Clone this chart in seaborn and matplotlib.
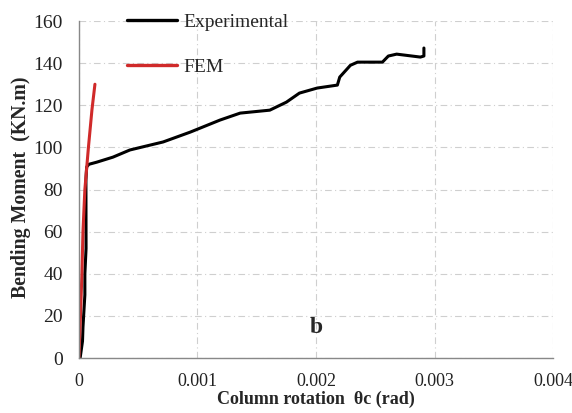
import matplotlib
matplotlib.use("Agg")
import matplotlib.pyplot as plt
import seaborn as sns
import pandas as pd

# Moment-rotation response of the column
exp_rotation = [0.00001, 0.00003, 0.000034, 0.00005, 0.00005, 0.00006, 0.000059, 0.000065,
                0.000084, 0.00015, 0.000287, 0.00043, 0.00071, 0.00094, 0.00119, 0.00136,
                0.00161, 0.00175, 0.00186, 0.00201, 0.00218, 0.0022, 0.00229, 0.00235,
                0.00256, 0.00261, 0.00268, 0.00288, 0.00291, 0.00291]
exp_moment = [0, 8, 14.7, 30, 40, 52, 84.5, 90.7,
              92, 93, 95.4, 98.8, 102.6, 107.3, 113, 116.3,
              117.7, 121.5, 125.8, 128.2, 129.6, 133.4, 139, 140.5,
              140.5, 143.4, 144.3, 142.9, 143.4, 147.2]

fem_rotation = [0, 0.000013, 0.000025, 0.000034, 0.00005, 0.00008, 0.00011, 0.000135]
fem_moment = [0, 20, 40, 60, 80, 100, 118, 130]

x_ticks = [0, 0.001, 0.002, 0.003, 0.004]
x_tick_labels = ["0", "0.001", "0.002", "0.003", "0.004"]
y_ticks = [0, 20, 40, 60, 80, 100, 120, 140, 160]

df = pd.concat([
    pd.DataFrame({"rotation": exp_rotation, "moment": exp_moment, "series": "Experimental"}),
    pd.DataFrame({"rotation": fem_rotation, "moment": fem_moment, "series": "FEM"}),
])

sns.set_style("white")
plt.rcParams["font.family"] = ["Liberation Serif", "DejaVu Serif"]

fig = plt.figure(figsize=(5.72, 4.13), dpi=100)
ax = fig.add_axes([0.138, 0.133, 0.829, 0.816])

sns.lineplot(data=df, x="rotation", y="moment", hue="series", sort=False,
             estimator=None, palette={"Experimental": "black", "FEM": "#d02a2a"},
             linewidth=2.2, ax=ax)

ax.set_xlim(0, 0.004)
ax.set_ylim(0, 160)
ax.set_xticks(x_ticks)
ax.set_xticklabels(x_tick_labels)
ax.set_yticks(y_ticks)
ax.tick_params(axis="x", labelsize=13, labelcolor="#222222", length=5, width=0.8,
               direction="out", color="#888888", pad=6)
ax.tick_params(axis="y", labelsize=14, labelcolor="#222222", length=5, width=0.8,
               direction="out", color="#888888", pad=6.5)

ax.grid(True, linestyle=(0, (6, 3, 1, 3)), color="#cfcfcf", linewidth=0.8)
for side in ["top", "right"]:
    ax.spines[side].set_visible(False)
for side in ["left", "bottom"]:
    ax.spines[side].set_color("#888888")
    ax.spines[side].set_linewidth(1.0)

ax.set_xlabel("Column rotation  θc (rad)", fontsize=13, fontweight="bold", labelpad=0)
ax.set_ylabel("Bending Moment  (KN.m)", fontsize=14.3, fontweight="bold")
ax.yaxis.set_label_coords(-0.102, 0.506)

ax.text(0.002, 14.5, "b", fontsize=17, fontweight="bold", ha="center", va="center")

leg = ax.legend(loc="upper left", bbox_to_anchor=(0.064, 1.075), frameon=False,
                fontsize=14, handlelength=2.6, labelspacing=1.4, handletextpad=0.3)
for line in leg.get_lines():
    line.set_linewidth(2.4)

fig.savefig("out.png", dpi=100, facecolor="white")
